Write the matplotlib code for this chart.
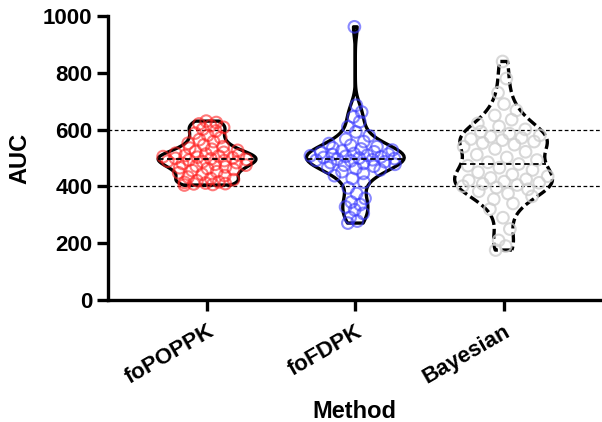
import numpy as np
import matplotlib
matplotlib.use('Agg')
import matplotlib.pyplot as plt
import matplotlib.transforms as mtransforms

# data
methods = ['foPOPPK', 'foFDPK', 'Bayesian']
auc_fopoppk = [405, 407, 409, 410, 412, 414, 416, 420, 424, 428, 433, 438, 443, 448, 452,
               456, 460, 463, 466, 469, 472, 475, 478, 481, 484, 487, 489, 491, 493, 495,
               497, 499, 501, 503, 505, 507, 509, 511, 514, 517, 520, 523, 527, 531, 535,
               540, 546, 552, 558, 565, 572, 580, 588, 595, 602, 608, 614, 620, 625, 630]
auc_fofdpk = [271, 278, 290, 305, 318, 328, 336, 345, 358, 375, 395,
              415, 428, 438, 446, 452, 458, 463, 467, 471, 475, 478, 481, 484, 487,
              490, 492, 494, 496, 498, 500, 502, 504, 506, 508, 510, 512, 514, 516,
              519, 522, 525, 528, 532, 536, 540, 545, 551, 558, 566,
              578, 592, 610, 628, 645, 662, 686, 962]
auc_bayes = [176, 190, 210, 250, 290, 320, 340, 355, 365, 375, 383, 390, 396, 401, 405,
             409, 413, 417, 421, 425, 430, 436, 442, 450, 458, 466, 473, 479, 485, 493,
             502, 512, 522, 532, 540, 547, 553, 558, 563, 567, 571, 575, 580, 586, 593,
             601, 611, 622, 635, 650, 668, 690, 730, 780, 840]
groups = [auc_fopoppk, auc_fofdpk, auc_bayes]
ref_lines = [400, 600]

point_colors = ['#ff2020', '#3a3aff', '#cfcfcf']
point_alpha = [0.6, 0.6, 0.8]
outline_styles = ['-', '-', (0, (3, 1.2))]

plt.rcParams['font.family'] = ['Liberation Sans', 'DejaVu Sans']
plt.rcParams['font.weight'] = 'bold'

fig = plt.figure(figsize=(6.02, 4.22), dpi=100)
ax = fig.add_axes([0.179, 0.289, 0.82, 0.673])

pos = np.arange(len(groups))
vp = ax.violinplot(groups, positions=pos, widths=0.66, showextrema=False,
                   bw_method=0.3)

for i, body in enumerate(vp['bodies']):
    body.set_facecolor('none')
    body.set_edgecolor('black')
    body.set_linewidth(2.4)
    body.set_linestyle(outline_styles[i])
    body.set_alpha(1)
    body.set_zorder(2)

    verts = body.get_paths()[0].vertices
    right = verts[verts[:, 0] > pos[i]]
    order = np.argsort(right[:, 1])
    ys = right[order, 1]
    hw = right[order, 0] - pos[i]

    vals = np.sort(np.array(groups[i], dtype=float))
    # spread points inside the violin using a golden-ratio sequence
    n = len(vals)
    u = (np.arange(n) * 0.618034) % 1.0 * 2 - 1
    offs = u * np.interp(vals, ys, hw) * 0.95
    ax.scatter(pos[i] + offs, vals, s=70, facecolors='none',
               edgecolors=point_colors[i], linewidths=1.5,
               alpha=point_alpha[i], zorder=3)

    med = np.median(vals)
    w = np.interp(med, ys, hw)
    ax.hlines(med, pos[i] - w, pos[i] + w, colors='black', linewidth=1.3,
              linestyles=(0, (3, 2)), zorder=4)

for r in ref_lines:
    ax.axhline(r, color='black', linewidth=0.9, linestyle=(0, (3, 2)), zorder=1)

ax.set_xlim(-0.67, 2.66)
ax.set_ylim(0, 1000)
ax.set_yticks([0, 200, 400, 600, 800, 1000])
ax.set_xticks(pos)
ax.set_xticklabels(methods, rotation=30, ha='right', rotation_mode='anchor')
shift = mtransforms.ScaledTranslation(0.07, 0, fig.dpi_scale_trans)
for lab in ax.get_xticklabels():
    lab.set_transform(lab.get_transform() + shift)

for s in ['top', 'right']:
    ax.spines[s].set_visible(False)
for s in ['left', 'bottom']:
    ax.spines[s].set_linewidth(2.4)
ax.tick_params(axis='both', width=2.4, length=8, labelsize=16)
ax.tick_params(axis='x', pad=7)
ax.tick_params(axis='y', pad=3)

ax.set_ylabel('AUC', fontsize=17, fontweight='bold', labelpad=8)
ax.set_xlabel('Method', fontsize=17, fontweight='bold', labelpad=8)

fig.savefig('out.png', dpi=100)
